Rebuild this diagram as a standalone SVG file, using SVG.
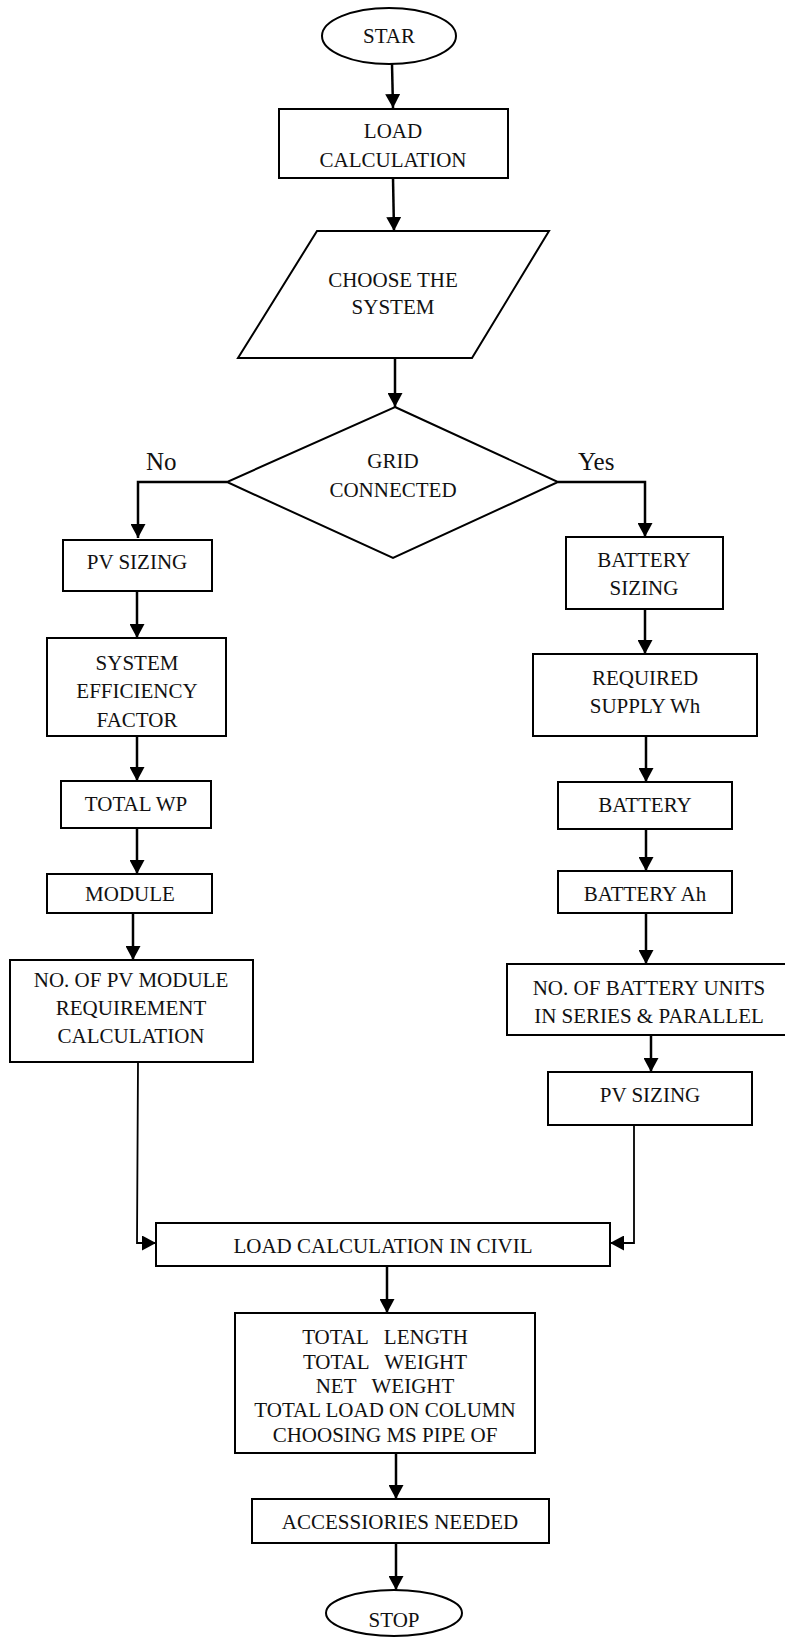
<svg xmlns="http://www.w3.org/2000/svg" width="785" height="1638" viewBox="0 0 785 1638">
<style>
.n{fill:#fff;stroke:#000;stroke-width:2}
.t{font-family:"Liberation Serif","Times New Roman",serif;font-size:21px;fill:#111;text-anchor:middle;white-space:pre}
.l{font-family:"Liberation Serif","Times New Roman",serif;font-size:25px;fill:#111}
.c{fill:none;stroke:#000;stroke-width:2.5;marker-end:url(#ah)}
.c2{fill:none;stroke:#000;stroke-width:1.8;marker-end:url(#ah)}
</style>
<defs>
<marker id="ah" markerUnits="userSpaceOnUse" markerWidth="15" markerHeight="15" refX="14" refY="7.5" orient="auto">
<path d="M0,0 L14,7.5 L0,15 z" fill="#000"/>
</marker>
</defs>
<rect width="785" height="1638" fill="#fff"/>
<g id="connectors">
<path class="c" d="M392,64 L393,108"/>
<path class="c" d="M393,178 L394,231"/>
<path class="c" d="M395,358 L395,407"/>
<path class="c" d="M227,482 L138,482 L138,538"/>
<path class="c" d="M558,482 L645,482 L645,537"/>
<path class="c" d="M137,591 L137,638"/>
<path class="c" d="M137,736 L137,781"/>
<path class="c" d="M137,828 L137,874"/>
<path class="c" d="M133,913 L133,960"/>
<path class="c2" d="M138,1062 L137,1243 L156,1243"/>
<path class="c" d="M645,609 L645,654"/>
<path class="c" d="M646,736 L646,782"/>
<path class="c" d="M646,829 L646,871"/>
<path class="c" d="M646,913 L646,964"/>
<path class="c" d="M651,1035 L651,1072"/>
<path class="c2" d="M634,1125 L634,1243 L610,1243"/>
<path class="c" d="M387,1266 L387,1313"/>
<path class="c" d="M396,1453 L396,1499"/>
<path class="c" d="M396,1543 L396,1590"/>
</g>
<g id="start"><ellipse class="n" cx="389" cy="36" rx="67" ry="28"/><text class="t" x="389" y="43">STAR</text></g>
<g id="load"><rect class="n" x="279" y="109" width="229" height="69"/><text class="t" x="393" y="138">LOAD</text><text class="t" x="393" y="167">CALCULATION</text></g>
<g id="choose"><polygon class="n" points="317,231 549,231 472,358 238,358"/><text class="t" x="393" y="287">CHOOSE THE</text><text class="t" x="393" y="314">SYSTEM</text></g>
<g id="grid"><polygon class="n" points="395,407 558,482 393,558 227,482"/><text class="t" x="393" y="468">GRID</text><text class="t" x="393" y="497">CONNECTED</text></g>
<g id="labels"><text class="l" x="146" y="470">No</text><text class="l" x="578" y="470">Yes</text></g>
<g id="pvsizing1"><rect class="n" x="63" y="540" width="149" height="51"/><text class="t" x="137" y="569">PV SIZING</text></g>
<g id="sef"><rect class="n" x="47" y="638" width="179" height="98"/><text class="t" x="137" y="670">SYSTEM</text><text class="t" x="137" y="698">EFFICIENCY</text><text class="t" x="137" y="727">FACTOR</text></g>
<g id="totalwp"><rect class="n" x="61" y="781" width="150" height="47"/><text class="t" x="136" y="811">TOTAL WP</text></g>
<g id="module"><rect class="n" x="47" y="874" width="165" height="39"/><text class="t" x="130" y="901">MODULE</text></g>
<g id="nopv"><rect class="n" x="10" y="960" width="243" height="102"/><text class="t" x="131" y="987">NO. OF PV MODULE</text><text class="t" x="131" y="1015">REQUIREMENT</text><text class="t" x="131" y="1043">CALCULATION</text></g>
<g id="battsizing"><rect class="n" x="566" y="537" width="157" height="72"/><text class="t" x="644" y="567">BATTERY</text><text class="t" x="644" y="595">SIZING</text></g>
<g id="required"><rect class="n" x="533" y="654" width="224" height="82"/><text class="t" x="645" y="685">REQUIRED</text><text class="t" x="645" y="713">SUPPLY Wh</text></g>
<g id="battery"><rect class="n" x="558" y="782" width="174" height="47"/><text class="t" x="645" y="812">BATTERY</text></g>
<g id="battah"><rect class="n" x="558" y="871" width="174" height="42"/><text class="t" x="645" y="901">BATTERY Ah</text></g>
<g id="nobatt"><rect class="n" x="507" y="964" width="282" height="71"/><text class="t" x="649" y="995">NO. OF BATTERY UNITS</text><text class="t" x="649" y="1023">IN SERIES &amp; PARALLEL</text></g>
<g id="pvsizing2"><rect class="n" x="548" y="1072" width="204" height="53"/><text class="t" x="650" y="1102">PV SIZING</text></g>
<g id="civil"><rect class="n" x="156" y="1223" width="454" height="43"/><text class="t" x="383" y="1253">LOAD CALCULATION IN CIVIL</text></g>
<g id="totals"><rect class="n" x="235" y="1313" width="300" height="140"/><text class="t" x="385" y="1344">TOTAL   LENGTH</text><text class="t" x="385" y="1369">TOTAL   WEIGHT</text><text class="t" x="385" y="1393">NET   WEIGHT</text><text class="t" x="385" y="1417">TOTAL LOAD ON COLUMN</text><text class="t" x="385" y="1442">CHOOSING MS PIPE OF</text></g>
<g id="access"><rect class="n" x="252" y="1499" width="297" height="44"/><text class="t" x="400" y="1529">ACCESSIORIES NEEDED</text></g>
<g id="stop"><ellipse class="n" cx="394" cy="1613" rx="68" ry="23"/><text class="t" x="394" y="1627">STOP</text></g>
</svg>
